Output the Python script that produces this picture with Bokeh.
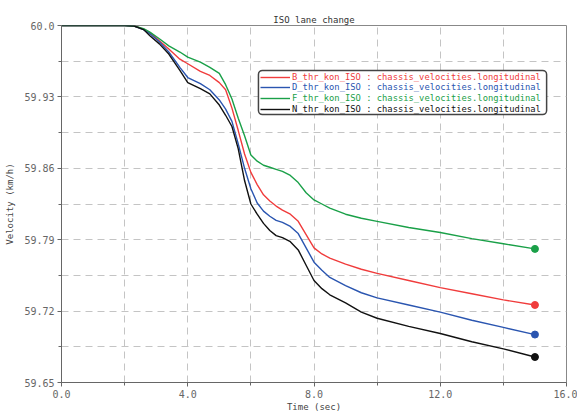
from bokeh.plotting import figure
from bokeh.models import FixedTicker, Legend, LegendItem, BoxAnnotation, Range1d
from bokeh.embed import file_html
from bokeh.resources import INLINE

t = [0, 1, 2, 2.3, 2.6, 2.8, 3.1, 3.4, 3.75, 4.0, 4.4, 4.7, 5.0, 5.2, 5.4, 5.6, 5.8, 6.0,
     6.2, 6.4, 6.6, 6.8, 7.0, 7.25, 7.5, 7.75, 8.0, 8.25, 8.5, 9.0, 9.5, 10, 11, 12, 13, 14, 15]
vel_B = [60.0, 60.0, 60.0, 59.9995, 59.9965, 59.993, 59.985, 59.977, 59.967, 59.9625, 59.955,
         59.951, 59.944, 59.937, 59.919, 59.897, 59.874, 59.856, 59.844, 59.834, 59.828, 59.823,
         59.819, 59.815, 59.808, 59.795, 59.782, 59.776, 59.772, 59.766, 59.761, 59.757, 59.750,
         59.743, 59.737, 59.731, 59.726]
vel_D = [60.0, 60.0, 60.0, 59.9995, 59.996, 59.992, 59.984, 59.974, 59.959, 59.949, 59.943,
         59.937, 59.927, 59.918, 59.906, 59.884, 59.860, 59.840, 59.826, 59.818, 59.813, 59.809,
         59.807, 59.803, 59.796, 59.782, 59.768, 59.760, 59.753, 59.745, 59.738, 59.733, 59.726,
         59.719, 59.711, 59.704, 59.697]
vel_F = [60.0, 60.0, 60.0, 59.9995, 59.997, 59.9935, 59.987, 59.980, 59.974, 59.969, 59.964,
         59.959, 59.953, 59.942, 59.928, 59.909, 59.892, 59.873, 59.867, 59.863, 59.861, 59.859,
         59.857, 59.853, 59.846, 59.836, 59.829, 59.825, 59.821, 59.815, 59.811, 59.808, 59.802,
         59.797, 59.791, 59.786, 59.781]
vel_N = [60.0, 60.0, 60.0, 59.9995, 59.996, 59.990, 59.982, 59.972, 59.956, 59.944, 59.938,
         59.933, 59.922, 59.912, 59.901, 59.879, 59.848, 59.825, 59.815, 59.806, 59.799, 59.794,
         59.792, 59.788, 59.780, 59.765, 59.750, 59.742, 59.736, 59.728, 59.719, 59.713, 59.705,
         59.698, 59.690, 59.683, 59.675]

labels = ["B_thr_kon_ISO : chassis_velocities.longitudinal",
          "D_thr_kon_ISO : chassis_velocities.longitudinal",
          "F_thr_kon_ISO : chassis_velocities.longitudinal",
          "N_thr_kon_ISO : chassis_velocities.longitudinal"]
colors = ["#f03c3c", "#2a55b0", "#1aa048", "#111111"]
series = [vel_B, vel_D, vel_F, vel_N]

x_major = [0, 4, 8, 12, 16]
x_minor = [2, 6, 10, 14]
x_labels = {0: "0.0", 4: "4.0", 8: "8.0", 12: "12.0", 16: "16.0"}
y_major = [59.65, 59.72, 59.79, 59.86, 59.93, 60.0]
y_minor = [59.685, 59.755, 59.825, 59.895, 59.965]
y_labels = ["59.65", "59.72", "59.79", "59.86", "59.93", "60.0"]

FONT = "DejaVu Sans Mono"

p = figure(width=577, height=414, output_backend="svg", toolbar_location=None,
           title="ISO lane change",
           x_range=Range1d(0, 16), y_range=Range1d(59.65, 60.0),
           min_border_left=61, min_border_right=11, min_border_top=25, min_border_bottom=32)

p.title.align = "center"
p.title.text_font = FONT
p.title.text_font_size = "9px"
p.title.text_font_style = "normal"
p.title.text_color = "#333333"
p.title.offset = 0
p.title.standoff = 2

p.outline_line_color = "#888888"
p.outline_line_width = 1
p.background_fill_color = "white"

p.xaxis.ticker = FixedTicker(ticks=x_major, minor_ticks=x_minor)
p.yaxis.ticker = FixedTicker(ticks=y_major, minor_ticks=y_minor)
p.xaxis.major_label_overrides = x_labels
p.yaxis.major_label_overrides = {v: s for v, s in zip(y_major, y_labels)}

for ax in (p.xaxis, p.yaxis):
    ax.axis_line_color = "#666666"
    ax.major_tick_line_color = "#666666"
    ax.minor_tick_line_color = "#666666"
    ax.major_tick_out = 4
    ax.major_tick_in = 0
    ax.minor_tick_out = 3
    ax.minor_tick_in = 0
    ax.major_label_text_font = FONT
    ax.major_label_text_font_size = "10px"
    ax.major_label_text_color = "#666666"
    ax.axis_label_text_font = FONT
    ax.axis_label_text_font_size = "9px"
    ax.axis_label_text_font_style = "normal"
    ax.axis_label_text_color = "#444444"
    ax.major_label_standoff = 3
    ax.axis_label_standoff = 1

p.yaxis.axis_label_standoff = 6
p.xaxis.axis_label = "Time (sec)"
p.yaxis.axis_label = "Velocity (km/h)"

p.xgrid.ticker = FixedTicker(ticks=x_minor + x_major[1:-1])
p.ygrid.ticker = FixedTicker(ticks=y_minor + y_major[1:-1])
for g in (p.xgrid, p.ygrid):
    g.grid_line_color = "#c4c4c4"
    g.grid_line_dash = "7 5"
    g.grid_line_width = 1

renderers = []
for vals, col in zip(series, colors):
    r = p.line(t, vals, line_color=col, line_width=1.4)
    renderers.append(r)
    p.scatter([t[-1]], [vals[-1]], size=7, fill_color=col, line_color=col)

box = BoxAnnotation(left=6.24, right=15.37, top=59.9559, bottom=59.9127,
                    fill_color="white", fill_alpha=1.0, line_color="#444444",
                    line_width=1.5, line_alpha=1.0, border_radius=4)
p.add_layout(box)

for i, (r, lab, col) in enumerate(zip(renderers, labels, colors)):
    leg = Legend(items=[LegendItem(label=lab, renderers=[r])],
                 location=(199, 300.5 - 10.7 * i),
                 border_line_alpha=0, background_fill_alpha=0,
                 padding=0, margin=0, spacing=0,
                 glyph_width=30, glyph_height=10, label_height=10,
                 label_standoff=2, label_text_font=FONT, label_text_font_size="8.8px",
                 label_text_color=col)
    p.add_layout(leg, "center")

open("out.html", "w").write(file_html(p, INLINE))
